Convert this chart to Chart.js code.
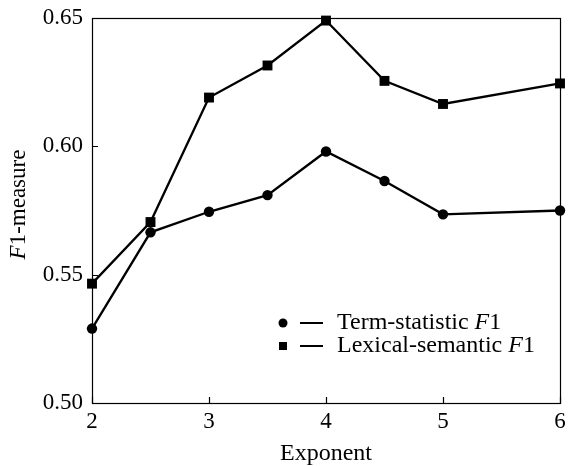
<!DOCTYPE html>
<html>
<head>
<meta charset="utf-8">
<script src="https://cdn.jsdelivr.net/npm/chart.js@4/dist/chart.umd.min.js"></script>
<style>
  html, body { margin: 0; padding: 0; background: #fff; }
  #wrap { width: 568px; height: 466px; }
</style>
</head>
<body>
<div id="wrap"><canvas id="lineChart" width="568" height="466"></canvas></div>
<script>
// Values
const exponents = [2, 2.5, 3, 3.5, 4, 4.5, 5, 6];
const termF1 = [0.529, 0.5665, 0.5745, 0.581, 0.598, 0.5865, 0.5735, 0.575];
const lexicalF1 = [0.5465, 0.5705, 0.619, 0.6315, 0.649, 0.6255, 0.6165, 0.6245];
const seriesNames = ['Term-statistic ', 'Lexical-semantic '];
const xTicks = [2, 3, 4, 5, 6];
const yTicks = [0.50, 0.55, 0.60, 0.65];

const FONT = '"Liberation Serif", "Times New Roman", serif';

function toPoints(ys) {
    return exponents.map((x, i) => ({ x: x, y: ys[i] }));
}

// draws the frame, inward ticks, axis titles and the in-plot legend
const decorations = {
    id: 'decorations',
    afterDraw(chart) {
        const ctx = chart.ctx;
        const area = chart.chartArea;
        const xs = chart.scales.x;
        const ys = chart.scales.y;
        ctx.save();
        ctx.strokeStyle = '#000';
        ctx.lineWidth = 1.2;
        ctx.strokeRect(area.left + 0.5, area.top + 0.5, area.right - area.left, area.bottom - area.top);

        // inward tick marks
        ctx.beginPath();
        xTicks.forEach(v => {
            const px = Math.round(xs.getPixelForValue(v)) + 0.5;
            ctx.moveTo(px, area.bottom);
            ctx.lineTo(px, area.bottom - 6);
        });
        yTicks.forEach(v => {
            const py = Math.round(ys.getPixelForValue(v)) + 0.5;
            ctx.moveTo(area.left, py);
            ctx.lineTo(area.left + 6, py);
        });
        ctx.stroke();

        ctx.fillStyle = '#000';
        ctx.textBaseline = 'middle';

        // x title
        ctx.font = '24px ' + FONT;
        ctx.textAlign = 'center';
        ctx.fillText('Exponent', (area.left + area.right) / 2, 454);

        // y title with italic F
        ctx.save();
        ctx.translate(19, (area.top + area.bottom) / 2 - 6);
        ctx.rotate(-Math.PI / 2);
        ctx.font = 'italic 23px ' + FONT;
        const fW = ctx.measureText('F').width;
        ctx.font = '23px ' + FONT;
        const restW = ctx.measureText('1-measure').width;
        let tx = -(fW + restW) / 2;
        ctx.textAlign = 'left';
        ctx.font = 'italic 23px ' + FONT;
        ctx.fillText('F', tx, 0);
        ctx.font = '23px ' + FONT;
        ctx.fillText('1-measure', tx + fW, 0);
        ctx.restore();

        // legend
        const rows = [323, 346];
        ctx.lineWidth = 2;
        chart.data.datasets.forEach((ds, i) => {
            const y = rows[i];
            ctx.fillStyle = '#000';
            if (ds.pointStyle === 'rect') {
                ctx.fillRect(279, y - 4, 8, 8);
            } else {
                ctx.beginPath();
                ctx.arc(283, y, 4.5, 0, Math.PI * 2);
                ctx.fill();
            }
            ctx.beginPath();
            ctx.moveTo(300, y);
            ctx.lineTo(323, y);
            ctx.stroke();
            ctx.textAlign = 'left';
            ctx.font = '24px ' + FONT;
            ctx.fillText(ds.label, 337, y);
            const w = ctx.measureText(ds.label).width;
            ctx.font = 'italic 24px ' + FONT;
            ctx.fillText('F', 337 + w, y);
            const fw = ctx.measureText('F').width;
            ctx.font = '24px ' + FONT;
            ctx.fillText('1', 337 + w + fw, y);
        });
        ctx.restore();
    }
};

const ctx = document.getElementById('lineChart').getContext('2d');
new Chart(ctx, {
    type: 'line',
    data: {
        datasets: [
            {
                label: seriesNames[0],
                data: toPoints(termF1),
                borderColor: '#000',
                backgroundColor: '#000',
                borderWidth: 2.3,
                pointStyle: 'circle',
                pointRadius: 5.2,
                pointBorderWidth: 0,
                tension: 0,
                clip: false
            },
            {
                label: seriesNames[1],
                data: toPoints(lexicalF1),
                borderColor: '#000',
                backgroundColor: '#000',
                borderWidth: 2.3,
                pointStyle: 'rect',
                pointRadius: 7,
                pointBorderWidth: 0,
                tension: 0,
                clip: false
            }
        ]
    },
    options: {
        responsive: false,
        animation: false,
        events: [],
        layout: { padding: { top: 18, right: 8, left: 0, bottom: 0 } },
        plugins: {
            legend: { display: false },
            tooltip: { enabled: false }
        },
        scales: {
            x: {
                type: 'linear',
                min: 2,
                max: 6,
                afterFit: s => { s.height = 63; s.paddingRight = 0; s.paddingLeft = 0; },
                afterBuildTicks: s => { s.ticks = xTicks.map(v => ({ value: v })); },
                grid: { display: false, drawTicks: false },
                border: { display: false },
                ticks: {
                    color: '#000',
                    padding: 5,
                    font: { family: FONT, size: 23 },
                    maxRotation: 0
                }
            },
            y: {
                min: 0.5,
                max: 0.65,
                afterFit: s => { s.width = 92; s.paddingTop = 0; s.paddingBottom = 0; },
                afterBuildTicks: s => { s.ticks = yTicks.map(v => ({ value: v })); },
                grid: { display: false, drawTicks: false },
                border: { display: false },
                ticks: {
                    color: '#000',
                    padding: 9,
                    font: { family: FONT, size: 23 },
                    callback: v => v.toFixed(2)
                }
            }
        }
    },
    plugins: [decorations]
});
</script>
</body>
</html>
